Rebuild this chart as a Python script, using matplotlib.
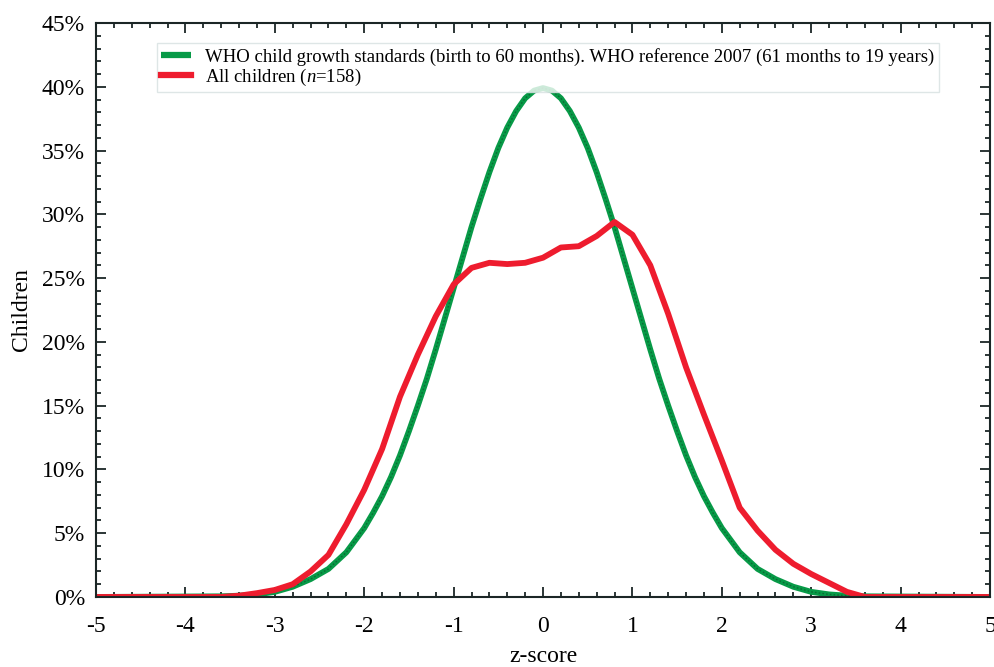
import matplotlib
matplotlib.use('Agg')
import matplotlib.pyplot as plt
from matplotlib.ticker import MultipleLocator

# WHO reference curve (% of children per z-score)
who_z = [-5.0, -3.6, -3.4, -3.2, -3.0, -2.8, -2.6, -2.4, -2.2, -2.0, -1.9, -1.8, -1.7,
         -1.6, -1.5, -1.4, -1.3, -1.2, -1.1, -1.0, -0.9, -0.8, -0.7, -0.6, -0.5,
         -0.4, -0.3, -0.2, -0.1, 0.0, 0.1, 0.2, 0.3, 0.4, 0.5, 0.6, 0.7, 0.8, 0.9,
         1.0, 1.1, 1.2, 1.3, 1.4, 1.5, 1.6, 1.7, 1.8, 1.9, 2.0, 2.2, 2.4, 2.6, 2.8,
         3.0, 3.2, 3.4, 3.6, 5.0]
who_pct = [0.0, 0.05, 0.1, 0.2, 0.4, 0.8, 1.4, 2.2, 3.5, 5.4, 6.6, 7.9, 9.4,
           11.1, 13.0, 15.0, 17.1, 19.4, 21.8, 24.2, 26.6, 29.0, 31.2, 33.3, 35.2,
           36.8, 38.1, 39.1, 39.7, 39.9, 39.7, 39.1, 38.1, 36.8, 35.2, 33.3, 31.2, 29.0, 26.6,
           24.2, 21.8, 19.4, 17.1, 15.0, 13.0, 11.1, 9.4, 7.9, 6.6, 5.4, 3.5, 2.2, 1.4, 0.8,
           0.4, 0.2, 0.1, 0.05, 0.0]

# All children (n=158)
kids_z = [-5.0, -3.6, -3.4, -3.2, -3.0, -2.8, -2.6, -2.4, -2.2, -2.0, -1.8, -1.6, -1.4,
          -1.2, -1.0, -0.8, -0.6, -0.4, -0.2, 0.0, 0.2, 0.4, 0.6, 0.8, 1.0, 1.2, 1.4,
          1.6, 1.8, 2.0, 2.2, 2.4, 2.6, 2.8, 3.0, 3.2, 3.4, 3.6, 5.0]
kids_pct = [0.0, 0.0, 0.1, 0.3, 0.55, 1.0, 2.0, 3.3, 5.7, 8.4, 11.6, 15.7, 19.0,
            22.0, 24.5, 25.8, 26.2, 26.1, 26.2, 26.6, 27.4, 27.5, 28.3, 29.4, 28.4, 26.0, 22.2,
            18.0, 14.3, 10.7, 7.0, 5.2, 3.7, 2.6, 1.8, 1.1, 0.4, 0.0, 0.0]

x_ticks = [-5, -4, -3, -2, -1, 0, 1, 2, 3, 4, 5]
x_labels = ['-5', '-4', '-3', '-2', '-1', '0', '1', '2', '3', '4', '5']
y_ticks = [0, 5, 10, 15, 20, 25, 30, 35, 40, 45]
y_labels = ['0%', '5%', '10%', '15%', '20%', '25%', '30%', '35%', '40%', '45%']

plt.rcParams['font.family'] = ['Liberation Serif', 'DejaVu Serif']
plt.rcParams['mathtext.fontset'] = 'custom'
plt.rcParams['mathtext.it'] = 'Liberation Serif:italic'
plt.rcParams['mathtext.rm'] = 'Liberation Serif'

fig = plt.figure(figsize=(9.95, 6.67), dpi=100)
ax = fig.add_axes([0.0965, 0.105, 0.8985, 0.8605])

green = '#079a47'
red = '#ee1c2e'

ax.plot(who_z, who_pct, color=green, linewidth=4.2, solid_capstyle='butt',
        label='WHO child growth standards (birth to 60 months). WHO reference 2007 (61 months to 19 years)')
ax.plot(who_z, who_pct, color='#0b5a2c', linewidth=1.0, linestyle=(0, (1.2, 1.5)), alpha=0.7)
ax.plot(kids_z, kids_pct, color=red, linewidth=4.2, label='All children ($n$=158)')

ax.set_xlim(-5, 5)
ax.set_ylim(0, 45)
ax.set_xticks(x_ticks)
ax.set_xticklabels(x_labels)
ax.set_yticks(y_ticks)
ax.set_yticklabels(y_labels)
ax.xaxis.set_minor_locator(MultipleLocator(0.2))
ax.yaxis.set_minor_locator(MultipleLocator(1))

spine_col = '#1b2626'
for s in ax.spines.values():
    s.set_color(spine_col)
    s.set_linewidth(1.5)
ax.tick_params(which='both', direction='in', top=True, right=True, color=spine_col, width=1.3)
ax.tick_params(which='major', length=7)
ax.tick_params(which='minor', length=3.5)
ax.tick_params(axis='x', which='major', labelsize=17, pad=14)
ax.tick_params(axis='y', which='major', labelsize=17, pad=8)

ax.set_xlabel('z-score', fontsize=17, labelpad=6)
ax.set_ylabel('Children', fontsize=17, labelpad=7)

handles, labels = ax.get_legend_handles_labels()
leg = ax.legend([handles[0], handles[1]], [labels[0], labels[1]],
                loc='upper left', bbox_to_anchor=(0.068, 0.965), borderaxespad=0,
                fontsize=13.5, frameon=True, fancybox=False, handlelength=1.6,
                handletextpad=0.7, borderpad=0.25, labelspacing=0.05)
leg.get_frame().set_edgecolor('#d6e0e0')
leg.get_frame().set_linewidth(1.0)
for ln in leg.get_lines():
    ln.set_linewidth(4.5)

fig.savefig('out.png', dpi=100)
